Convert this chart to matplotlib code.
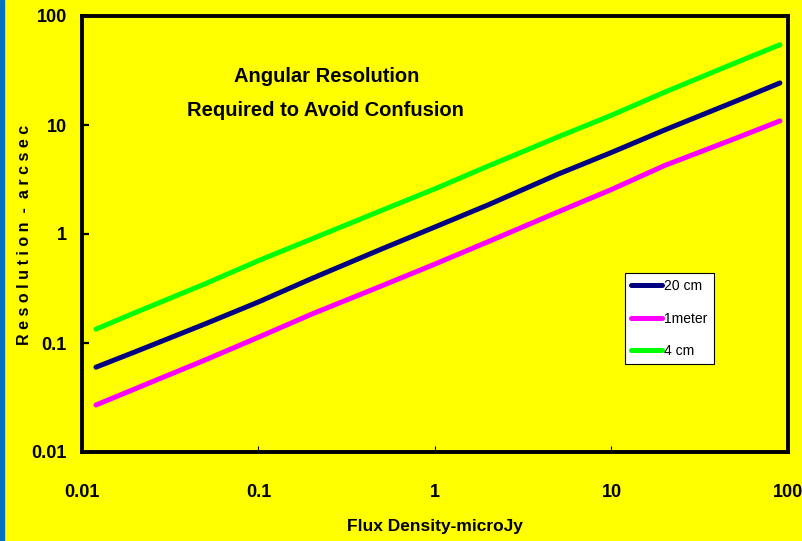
import matplotlib
matplotlib.use("Agg")
import matplotlib.pyplot as plt
from matplotlib.patches import Rectangle

# Flux density (microJy)
flux = [0.012, 0.02, 0.05, 0.1, 0.2, 0.5, 1, 2, 5, 10, 20, 50, 90]

# resolution (arcsec)
res_20cm = [0.060, 0.083, 0.150, 0.238, 0.39, 0.73, 1.16, 1.85, 3.55, 5.6, 9.0, 16.4, 24.3]
res_1m = [0.027, 0.038, 0.070, 0.113, 0.184, 0.335, 0.53, 0.85, 1.60, 2.56, 4.25, 7.5, 10.9]
res_4cm = [0.134, 0.19, 0.35, 0.57, 0.90, 1.65, 2.6, 4.2, 7.8, 12.3, 20.0, 37.0, 54.5]

xticks = [0.01, 0.1, 1, 10, 100]
xtick_labels = ["0.01", "0.1", "1", "10", "100"]
yticks = [0.01, 0.1, 1, 10, 100]
ytick_labels = ["0.01", "0.1", "1", "10", "100"]

plt.rcParams["font.family"] = ["Liberation Sans", "DejaVu Sans"]

fig = plt.figure(figsize=(8.03, 5.41), dpi=100, facecolor="#FFFF00")
fig.patches.append(Rectangle((0, 0), 4 / 803, 1, transform=fig.transFigure,
                             color="#0070C0", zorder=0))
ax = fig.add_axes([82 / 803, 1 - 452 / 541, 706 / 803, 436 / 541])
ax.set_facecolor("#FFFF00")

ax.plot(flux, res_20cm, color="#000080", lw=3.6, solid_capstyle="round", label="20 cm")
ax.plot(flux, res_1m, color="#FF00FF", lw=3.6, solid_capstyle="round", label="1meter")
ax.plot(flux, res_4cm, color="#00FF00", lw=3.6, solid_capstyle="round", label="4 cm")

ax.set_xscale("log")
ax.set_yscale("log")
ax.set_xlim(0.01, 100)
ax.set_ylim(0.01, 100)
ax.set_xticks(xticks)
ax.set_xticklabels(xtick_labels)
ax.set_yticks(yticks)
ax.set_yticklabels(ytick_labels)
ax.minorticks_off()

for s in ax.spines.values():
    s.set_linewidth(2.8)
    s.set_color("black")

ax.tick_params(axis="x", direction="in", length=4, width=0.8, pad=23,
               labelsize=13)
ax.tick_params(axis="y", direction="in", length=5, width=1.6, pad=11,
               labelsize=13)
for lab in ax.get_xticklabels() + ax.get_yticklabels():
    lab.set_fontweight("bold")

ax.set_xlabel("Flux Density-microJy", fontsize=12.5, fontweight="bold")
ax.xaxis.set_label_coords((435 - 82) / 706, -(527 - 452) / 436)
ax.xaxis.label.set_va("center")

ax.set_ylabel("R e s o l u t i o n  -  a r c s e c", fontsize=11.5,
              fontweight="bold")
ax.yaxis.set_label_coords((24 - 82) / 706, (452 - 235) / 436)
ax.yaxis.label.set_va("center")

fig.text(327 / 803, 1 - 76 / 541, "Angular Resolution",
         ha="center", va="center", fontsize=14.5, fontweight="bold")
fig.text(325 / 803, 1 - 111 / 541, "Required to Avoid Confusion",
         ha="center", va="center", fontsize=14.5, fontweight="bold")

leg = ax.legend(loc="upper left", bbox_to_anchor=(625 / 803, 1 - 273 / 541),
                bbox_transform=fig.transFigure, frameon=True, fancybox=False,
                edgecolor="black", facecolor="white", framealpha=1,
                fontsize=10, handlelength=2.2, handletextpad=0.15,
                labelspacing=1.33, borderpad=0.45, borderaxespad=0)
leg.get_frame().set_linewidth(0.8)

fig.savefig("out.png", dpi=100, facecolor=fig.get_facecolor())
